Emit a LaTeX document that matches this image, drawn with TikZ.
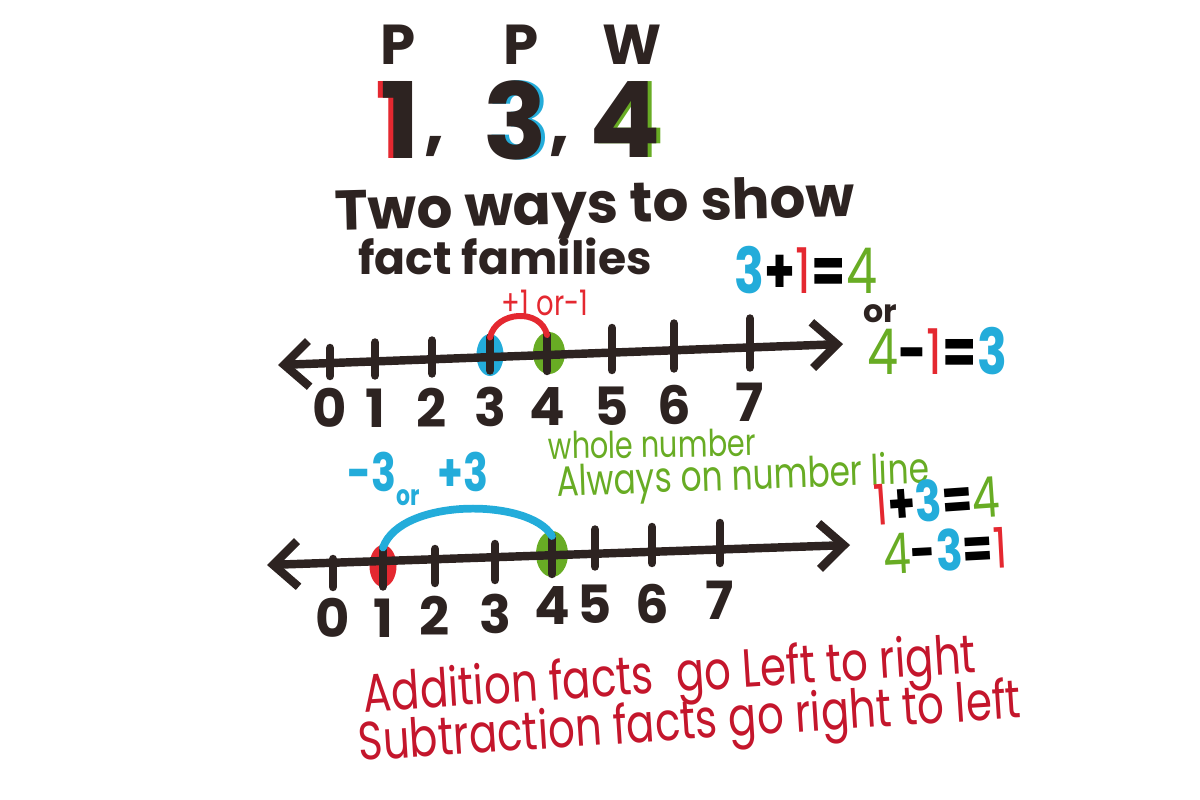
\documentclass[tikz,border=0pt]{standalone}
\usepackage{fontspec}
\setmainfont{Poppins}
\newfontfamily\handfont[FakeStretch=0.78]{Poppins}
\usepackage{tikz}
\usetikzlibrary{arrows.meta,shapes.geometric}
\definecolor{ink}{RGB}{45,35,33}
\definecolor{penred}{RGB}{228,40,48}
\definecolor{crimson}{RGB}{196,22,44}
\definecolor{penblue}{RGB}{35,172,218}
\definecolor{pengreen}{RGB}{104,172,36}
\newcommand{\edged}[3]{\rlap{\kern#1\textcolor{#2}{#3}}#3}% digit with a coloured rim

\begin{document}
\begin{tikzpicture}[x=0.01cm, y=-0.01cm,
   >={Straight Barb[length=7pt,width=13pt]},
   marker/.style = {text=ink, inner sep=0pt,% thick black marker
                    font=\bfseries\fontsize{#1}{#1}\selectfont},
      pen/.style = {inner sep=0pt,% thin coloured pens
                    font=\handfont\fontsize{#1}{#1}\selectfont},
  numline/.style = {draw=ink, line width=2.4pt, line cap=round, <->},
     tick/.style = {minimum width=0pt, minimum height=#1, inner sep=0pt, outer sep=0pt},
      dot/.style = {ellipse, fill=#1, minimum width=0.27cm, minimum height=0.42cm, inner sep=0pt},
      hop/.style = {draw=#1, line width=1.7pt, line cap=round},
                    ]
\useasboundingbox (0,0) rectangle (1200,800);

% parts and whole
\node[marker=16] (p1) at (398,45) {P};
\node[marker=16] (p2) at (521,45) {P};
\node[marker=16] (w)  at (632,45) {W};
\node[marker=30] (n1) at (400,120) {\edged{-1.2pt}{penred}{1}};
\node[marker=20] (c1) at (435,146) {,};
\node[marker=30] (n3) at (515,120) {\edged{1.3pt}{penblue}{3}};
\node[marker=20] (c2) at (560,146) {,};
\node[marker=30] (n4) at (625,120) {\edged{1.2pt}{pengreen}{4}};

\node[marker=16, rotate=1.5] (title) at (595,210) {Two ways to show};
\node[marker=13] (sub) at (505,256) {fact families};
\node[pen=18] (eqa) at (806,270) {\textcolor{penblue}{\bfseries 3}\textbf{+}\textcolor{penred}{1}\textbf{=}\textcolor{pengreen}{4}};

% first number line
\coordinate (a-l) at (278,365);
\coordinate (a-r) at (843,344);
\node[dot=penblue] (p3) at (490,355) {};
\node[dot=pengreen, minimum width=0.32cm] (p4) at (549,353) {};
\draw[numline] (a-l) -- (a-r);
\foreach \n/\x/\y/\h/\ly in {0/330/362/0.28cm/408, 1/375/359/0.33cm/408, 2/432/357/0.33cm/408,
                             3/490/354/0.33cm/407, 4/547/353/0.36cm/407, 5/612/349/0.42cm/406,
                             6/674/346/0.45cm/405, 7/750/343/0.49cm/402}% <-- ticks 0..7
   {
   \node[tick=\h] (a\n) at (\x,\y) {};
   \draw[ink, line width=2.4pt, line cap=round] (a\n.north) -- (a\n.south);
   \node[marker=15] (la\n) at (\x,\ly) {\n};
   }
\draw[hop=penred] (a3.north) .. controls +(6,-27) and +(-6,-27) .. (a4.north);
\node[pen=10, text=penred] (hopa) at (545,303) {+1 or-1};
\node[marker=9] (ora) at (880,314) {or};
\node[pen=18] (eqb) at (937,351) {\textcolor{pengreen}{4}\textbf{-}\textcolor{penred}{1}\textbf{=}\textcolor{penblue}{\bfseries 3}};

% notes in green
\node[pen=10.5, text=pengreen, rotate=1] (note1) at (652,444) {whole number};
\node[pen=12, text=pengreen, rotate=2] (note2) at (743,479) {Always on number line};
\node[pen=15, text=penblue] (hopb) at (418,479) {\bfseries -3{\fontsize{8}{8}\selectfont\raisebox{-4pt}{or}}\,\,+3};

% second number line
\coordinate (b-l) at (267,565);
\coordinate (b-r) at (850,545);
\node[dot=penred] (q1) at (383,566) {};
\node[dot=pengreen, minimum width=0.32cm, minimum height=0.46cm] (q4) at (552,554) {};
\draw[numline] (b-l) -- (b-r);
\foreach \n/\x/\y/\h/\ly in {0/333/573/0.28cm/618, 1/383/567/0.39cm/618, 2/435/566/0.34cm/616,
                             3/495/562/0.36cm/614, 4/552/555/0.38cm/606, 5/595/548/0.37cm/604,
                             6/652/545/0.36cm/604, 7/720/543/0.40cm/600}% <-- ticks 0..7
   {
   \node[tick=\h] (b\n) at (\x,\y) {};
   \draw[ink, line width=2.4pt, line cap=round] (b\n.north) -- (b\n.south);
   \node[marker=15] (lb\n) at (\x,\ly) {\n};
   }
\draw[hop=penblue, line width=2.2pt] (b1.north east) .. controls +(18,-50) and +(-22,-38) .. (b4.north);
\node[pen=16, rotate=4] (eqc) at (937,500) {\textcolor{penred}{1}\textbf{+}\textcolor{penblue}{\bfseries 3}\textbf{=}\textcolor{pengreen}{4}};
\node[pen=16, rotate=3] (eqd) at (945,550) {\textcolor{pengreen}{4}\textbf{-}\textcolor{penblue}{\bfseries 3}\textbf{=}\textcolor{penred}{1}};

% the rule in red
\node[pen=15.3, text=crimson, rotate=3.7] (add) at (670,679) {Addition facts\ \ go Left to right};
\node[pen=15.3, text=crimson, rotate=3.7] (subt) at (690,726) {Subtraction facts go right to left};
\end{tikzpicture}
\end{document}
